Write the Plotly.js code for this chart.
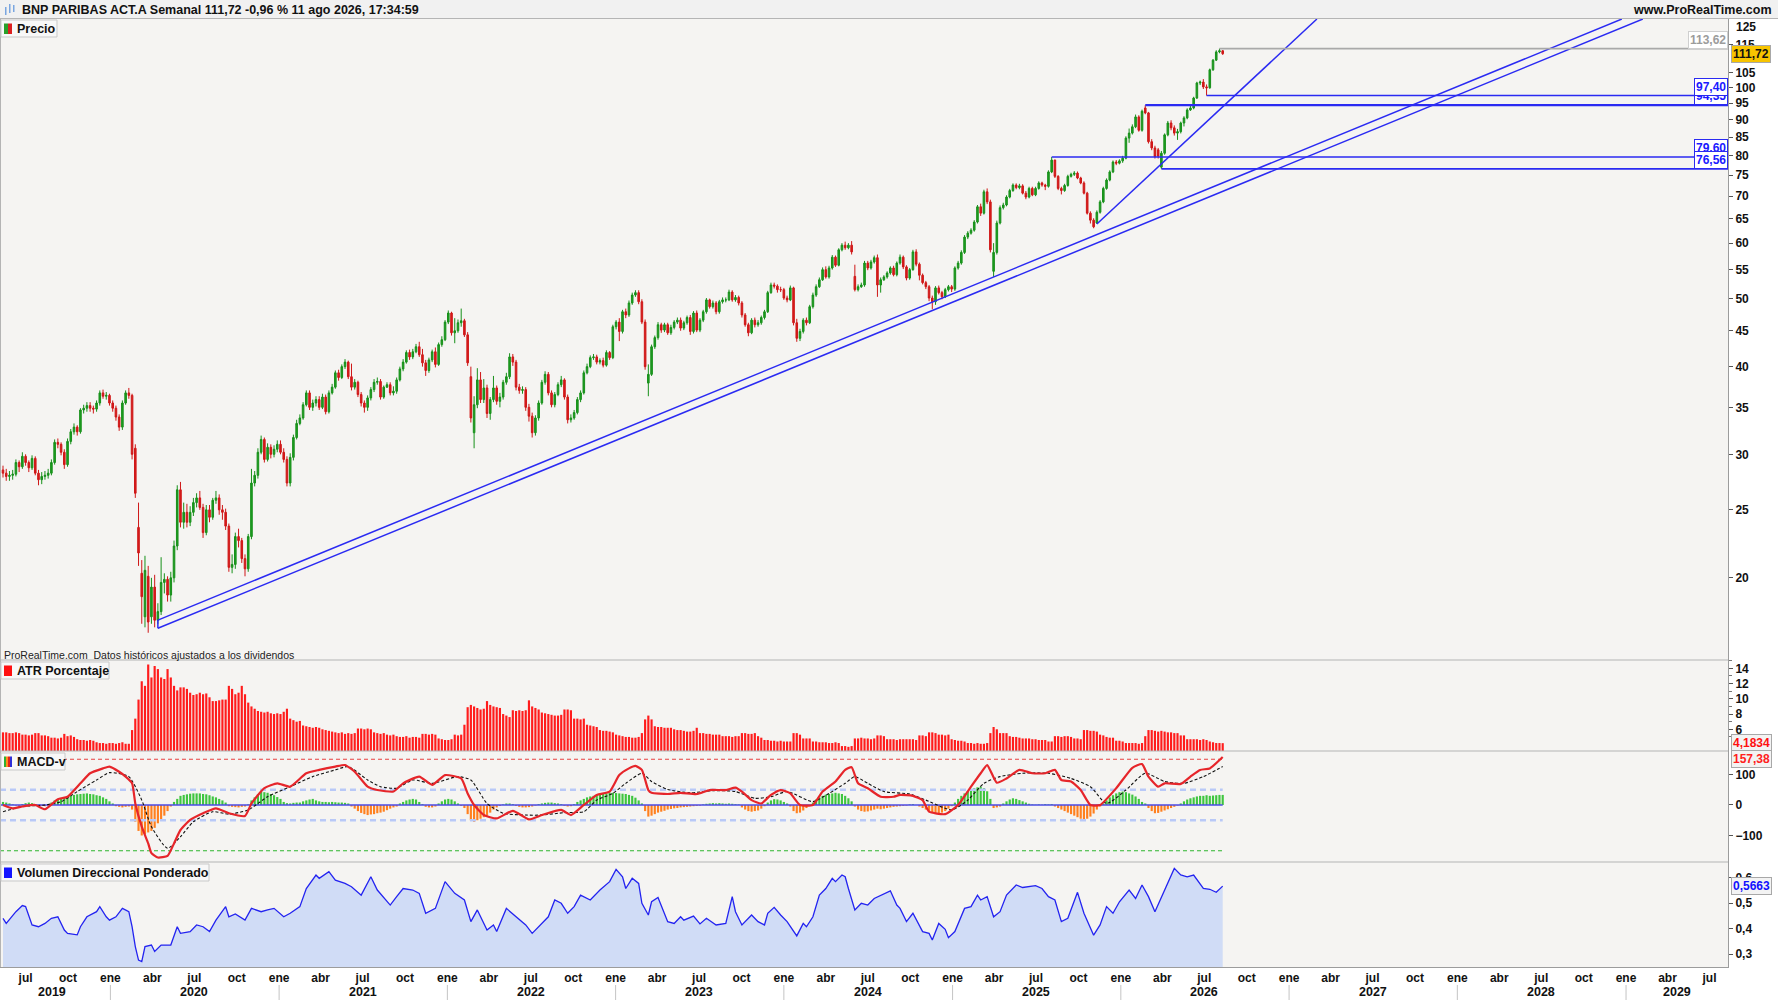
<!DOCTYPE html>
<html><head><meta charset="utf-8">
<script src="https://cdn.plot.ly/plotly-3.0.1.min.js"></script>
<style>html,body{margin:0;padding:0;background:#fff;}#chart{width:1778px;height:1000px;}</style>
</head><body><div id="chart"></div>
<script>
// ---------------- DATA ----------------
const weekStartUTC = Date.UTC(2019, 4, 13); // first weekly bar
const opens = [
28.5,28.2,27.9,28.0,28.1,29.2,28.8,29.8,29.2,28.7,
29.6,28.2,27.6,27.9,28.0,28.2,29.2,31.2,31.0,30.2,
29.0,31.3,32.3,32.8,32.3,34.7,34.9,35.2,34.9,34.8,
35.5,36.7,36.3,36.4,35.5,34.9,33.9,32.8,35.5,36.7,
36.4,30.6,23.6,20.3,17.6,20.1,17.6,19.4,17.4,17.9,
19.7,19.9,18.9,20.0,22.2,26.7,24.0,24.8,24.0,24.8,
25.6,26.0,25.2,23.2,25.0,24.4,25.8,26.0,25.0,24.8,
23.7,20.7,20.9,22.9,22.6,21.3,20.6,22.9,27.3,28.0,
30.2,31.5,29.5,30.7,30.0,30.5,31.0,30.2,29.5,27.3,
29.7,31.7,33.2,33.8,35.3,36.7,35.0,35.5,35.9,35.0,
36.2,34.5,36.7,37.4,39.2,38.6,40.0,40.6,38.7,37.4,
38.0,36.5,35.5,35.0,36.1,37.1,38.0,38.1,36.2,37.4,
37.7,36.7,36.9,38.3,39.7,40.6,41.9,41.3,42.0,42.7,
41.6,40.5,39.5,40.9,42.0,40.3,43.0,43.7,46.3,47.7,
44.7,45.0,46.2,46.5,44.4,38.7,32.2,35.3,38.3,35.9,
37.3,34.3,35.9,37.3,35.7,36.2,38.0,38.7,41.3,40.6,
37.4,37.0,37.1,35.0,34.0,32.2,33.8,35.5,38.0,39.0,
36.7,35.3,36.5,37.7,38.3,36.2,33.6,33.8,34.4,35.9,
36.7,39.2,40.0,41.2,41.3,40.6,40.8,40.2,41.9,41.2,
45.6,46.3,44.9,47.9,47.4,49.3,50.6,51.0,49.5,46.3,
37.9,39.0,42.7,44.0,45.9,45.1,45.9,44.7,45.5,46.3,
46.6,45.4,46.2,47.0,44.9,47.7,45.1,46.6,47.9,49.8,
48.7,49.3,47.9,49.5,49.8,49.8,51.1,49.8,50.2,49.3,
47.4,45.9,44.7,46.6,45.9,46.2,47.0,47.9,51.0,52.3,
52.1,51.5,51.5,50.1,49.8,51.8,46.2,43.9,44.9,46.6,
46.2,48.7,50.6,52.0,53.2,55.0,53.7,55.3,57.3,55.8,
58.7,59.6,59.1,59.6,53.8,51.5,52.0,52.3,56.2,55.3,
56.4,57.2,52.3,53.2,53.7,54.4,55.3,54.1,56.2,57.3,
55.5,53.5,55.0,58.3,56.0,54.0,52.7,52.0,50.1,49.5,
51.8,51.0,50.3,51.5,52.0,51.6,55.3,56.2,58.2,61.2,
62.0,62.6,64.3,67.6,66.2,71.0,68.7,54.7,58.2,64.1,
67.4,68.0,69.8,71.3,72.6,72.0,72.4,70.7,69.8,71.8,
70.3,71.8,73.1,72.6,72.3,75.8,78.8,74.7,71.8,71.3,
72.5,74.7,75.2,75.5,74.3,73.1,70.7,66.2,64.7,64.1,
66.4,68.7,71.8,73.8,75.8,78.3,78.0,78.6,79.3,84.7,
86.1,87.9,90.8,86.9,93.5,92.0,83.7,82.0,81.5,77.0,
80.6,85.6,89.0,87.6,86.1,86.5,89.0,90.5,92.9,93.5,
96.6,101.5,101.8,100.2,99.9,106.0,109.4,112.4,112.8];
const highs = [
28.9,28.6,28.4,28.5,29.5,29.4,30.2,30.0,29.4,29.9,
29.8,28.5,28.3,28.4,28.6,29.5,31.5,31.6,31.2,30.5,
31.6,32.6,33.2,33.0,34.9,35.3,35.6,35.6,35.2,35.8,
37.0,37.1,36.8,36.6,35.8,35.2,34.2,35.8,37.0,37.3,
36.6,31.0,25.6,21.2,21.5,20.8,20.0,20.2,18.4,21.4,
20.3,20.1,20.4,22.6,27.1,27.4,25.6,25.5,25.3,26.0,
26.4,26.6,25.5,25.4,25.4,26.0,26.6,26.3,25.4,25.1,
23.9,21.6,23.2,23.5,22.8,21.6,23.1,28.6,28.4,30.6,
31.9,31.7,31.1,31.0,30.9,31.4,31.4,30.6,29.8,30.1,
32.0,33.6,34.2,35.6,37.0,37.0,35.9,36.3,36.3,36.6,
36.5,37.0,37.8,39.5,39.6,40.3,41.0,40.8,40.4,38.4,
38.2,36.8,35.8,36.4,37.4,38.4,38.6,38.4,37.6,38.0,
38.0,37.5,38.6,40.0,41.0,42.2,42.3,42.4,43.1,43.4,
42.4,40.9,41.2,42.3,42.6,43.3,44.2,46.6,48.1,47.9,
46.9,46.7,48.4,46.8,44.8,40.0,36.3,39.8,39.3,38.4,
37.7,36.2,38.8,37.6,36.7,38.3,39.2,41.8,41.7,40.9,
37.8,37.5,37.4,35.4,34.4,34.1,35.8,38.3,39.4,39.3,
37.0,36.8,38.0,38.8,38.5,36.5,34.2,34.7,36.2,37.0,
39.5,40.4,41.5,41.7,41.6,41.1,41.2,42.2,42.1,45.9,
46.6,46.9,48.2,48.4,49.7,51.0,51.4,51.4,49.9,46.7,
40.3,43.0,44.3,46.3,46.2,46.2,46.2,45.9,46.6,47.0,
47.0,46.5,47.3,47.4,48.0,48.1,46.9,48.2,50.1,50.0,
49.7,49.6,49.8,50.2,50.2,51.5,51.4,50.6,50.5,49.6,
47.7,46.2,46.9,47.0,46.6,47.3,48.2,51.3,52.7,52.7,
52.4,52.0,51.8,50.5,52.2,52.0,46.8,45.3,46.9,47.0,
49.0,51.0,52.4,53.6,55.4,55.6,55.7,57.7,57.6,59.0,
60.0,60.3,60.0,60.4,55.9,52.4,52.7,56.6,56.6,56.8,
57.6,57.8,53.6,54.0,54.7,55.6,55.7,56.5,57.8,57.6,
55.8,55.3,58.7,58.8,56.3,54.3,53.0,52.3,50.5,52.1,
52.2,51.3,51.8,52.3,52.3,55.6,56.6,58.6,61.6,62.4,
63.0,64.7,68.0,68.3,71.5,71.8,69.2,60.0,64.6,67.9,
68.5,70.2,71.7,73.0,73.0,72.9,72.8,71.2,72.2,72.2,
72.2,73.5,73.4,72.9,76.2,79.6,78.9,75.0,72.2,72.9,
75.1,75.6,76.0,75.9,74.6,73.5,71.0,66.6,65.1,66.8,
69.1,72.2,74.2,76.2,78.7,78.8,79.0,79.9,85.2,87.4,
88.6,91.5,91.3,93.0,94.35,92.3,84.4,82.6,82.0,81.2,
86.0,89.6,89.8,88.3,87.3,89.4,91.0,93.4,94.2,97.0,
101.9,102.3,102.8,101.0,106.4,109.8,113.0,113.62,113.1];
const lows = [
27.8,27.5,27.5,27.6,27.9,28.3,28.6,28.9,28.3,28.5,
28.0,27.1,27.2,27.6,27.7,28.0,29.0,30.6,29.9,28.6,
28.8,31.0,32.0,31.9,32.1,34.3,34.5,34.5,34.3,34.5,
35.2,36.0,35.9,35.2,34.5,33.5,32.4,32.5,35.3,36.0,
29.5,26.0,20.8,17.2,17.0,16.7,17.2,17.0,17.2,17.7,
19.0,18.5,18.5,19.7,21.9,23.6,23.5,23.6,23.7,24.5,
25.2,25.0,22.8,23.0,24.0,24.2,25.5,24.6,24.2,23.4,
20.4,20.3,20.6,22.1,21.0,20.1,20.4,22.7,27.0,27.7,
30.0,29.2,29.3,29.6,29.7,30.2,30.0,29.2,27.0,27.0,
29.4,31.5,33.0,33.6,35.1,34.7,34.6,35.1,34.7,34.8,
34.2,34.3,36.5,37.2,38.2,38.4,39.7,38.4,37.0,37.1,
36.2,35.1,34.4,34.6,35.8,36.8,37.7,35.9,36.0,37.3,
36.4,36.4,36.6,38.1,39.4,40.4,40.9,41.0,41.8,41.3,
40.0,38.8,39.2,40.6,39.9,40.1,42.7,43.5,46.0,44.3,
43.2,44.7,45.6,44.1,40.1,33.3,30.6,34.9,35.5,35.5,
33.8,33.6,35.6,35.3,35.0,35.9,37.7,38.4,40.1,37.0,
36.6,36.6,34.6,33.4,31.7,31.9,33.5,35.3,37.7,36.4,
35.0,35.0,36.3,37.4,35.9,33.2,33.3,33.6,34.2,35.6,
36.5,39.0,39.8,40.9,40.3,40.3,39.9,40.0,40.9,41.0,
45.2,43.5,44.6,46.9,47.1,49.0,50.3,49.1,46.0,39.6,
36.3,38.8,42.4,43.7,44.7,44.8,44.4,44.4,45.2,46.0,
45.0,45.1,45.9,44.4,44.6,44.8,44.8,46.3,47.6,48.4,
48.4,47.5,47.6,49.2,49.4,49.6,49.5,49.5,48.9,47.0,
45.6,44.2,44.5,45.5,45.6,45.9,46.7,47.7,50.8,51.7,
51.0,51.1,49.8,49.4,49.6,45.8,43.4,43.5,44.6,45.8,
46.0,48.4,50.3,51.8,53.0,53.4,53.4,55.0,55.5,55.6,
58.4,58.7,58.8,57.8,51.2,51.2,51.8,52.0,54.9,55.0,
56.1,50.3,51.0,53.0,53.4,54.1,53.8,53.8,55.9,55.1,
53.1,53.2,54.8,55.6,53.1,52.4,51.6,49.6,48.3,49.0,
50.7,49.9,50.1,51.2,51.1,51.3,55.0,55.9,57.9,60.8,
61.7,62.3,64.0,65.6,65.9,68.2,58.2,53.7,57.8,63.8,
67.0,67.7,69.5,71.0,71.6,71.6,70.4,69.3,69.5,70.0,
70.0,71.5,72.2,71.4,72.0,75.5,74.3,71.4,70.4,71.0,
72.2,74.4,74.8,74.0,72.8,70.4,65.9,64.0,63.0,63.9,
66.1,68.4,71.5,73.5,75.5,77.5,77.7,78.1,79.0,83.4,
85.7,87.5,86.5,86.5,91.6,83.2,81.4,79.2,79.2,76.56,
80.2,85.2,86.9,85.4,84.2,86.0,88.0,90.1,92.6,93.1,
96.3,100.8,99.5,97.4,99.6,105.6,109.1,111.9,111.3];
const closes = [
28.2,27.9,28.0,28.1,29.2,28.8,29.8,29.2,28.7,29.6,
28.2,27.6,27.9,28.0,28.2,29.2,31.2,31.0,30.2,29.0,
31.3,32.3,32.8,32.3,34.7,34.9,35.2,34.9,34.8,35.5,
36.7,36.3,36.4,35.5,34.9,33.9,32.8,35.5,36.7,36.4,
30.0,26.4,21.7,18.8,20.5,17.3,19.4,17.4,17.9,19.7,
19.9,18.9,20.0,22.2,26.7,24.0,24.8,24.0,24.8,25.6,
26.0,25.2,23.2,25.0,24.4,25.8,26.0,25.0,24.8,23.7,
20.7,20.9,22.9,22.6,21.3,20.6,22.9,27.3,28.0,30.2,
31.5,29.5,30.7,30.0,30.5,31.0,30.2,29.5,27.3,29.7,
31.7,33.2,33.8,35.3,36.7,35.0,35.5,35.9,35.0,36.2,
34.5,36.7,37.4,39.2,38.6,40.0,40.6,38.7,37.4,38.0,
36.5,35.5,35.0,36.1,37.1,38.0,38.1,36.2,37.4,37.7,
36.7,36.9,38.3,39.7,40.6,41.9,41.3,42.0,42.7,41.6,
40.5,39.5,40.9,42.0,40.3,43.0,43.7,46.3,47.7,44.7,
45.0,46.2,46.5,44.4,40.5,33.8,35.3,38.3,35.9,37.3,
34.3,35.9,37.3,35.7,36.2,38.0,38.7,41.3,40.6,37.4,
37.0,37.1,35.0,34.0,32.2,33.8,35.5,38.0,39.0,36.7,
35.3,36.5,37.7,38.3,36.2,33.6,33.8,34.4,35.9,36.7,
39.2,40.0,41.2,41.3,40.6,40.8,40.2,41.9,41.2,45.6,
46.3,44.9,47.9,47.4,49.3,50.6,51.0,49.5,46.3,40.0,
39.0,42.7,44.0,45.9,45.1,45.9,44.7,45.5,46.3,46.6,
45.4,46.2,47.0,44.9,47.7,45.1,46.6,47.9,49.8,48.7,
49.3,47.9,49.5,49.8,49.8,51.1,49.8,50.2,49.3,47.4,
45.9,44.7,46.6,45.9,46.2,47.0,47.9,51.0,52.3,52.1,
51.5,51.5,50.1,49.8,51.8,46.2,43.9,44.9,46.6,46.2,
48.7,50.6,52.0,53.2,55.0,53.7,55.3,57.3,55.8,58.7,
59.6,59.1,59.6,58.3,51.5,52.0,52.3,56.2,55.3,56.4,
57.2,52.3,53.2,53.7,54.4,55.3,54.1,56.2,57.3,55.5,
53.5,55.0,58.3,56.0,54.0,52.7,52.0,50.1,49.5,51.8,
51.0,50.3,51.5,52.0,51.6,55.3,56.2,58.2,61.2,62.0,
62.6,64.3,67.6,66.2,71.0,68.7,58.7,58.2,64.1,67.4,
68.0,69.8,71.3,72.6,72.0,72.4,70.7,69.8,71.8,70.3,
71.8,73.1,72.6,72.3,75.8,78.8,74.7,71.8,71.3,72.5,
74.7,75.2,75.5,74.3,73.1,70.7,66.2,64.7,63.3,66.4,
68.7,71.8,73.8,75.8,78.3,78.0,78.6,79.3,84.7,86.1,
87.9,90.8,86.9,92.5,92.0,83.7,82.0,79.7,79.8,80.6,
85.6,89.0,87.6,86.1,86.5,89.0,90.5,92.9,93.5,96.6,
101.5,101.8,100.2,99.9,106.0,109.4,112.4,112.8,111.72];
const atrPct = [
5.6,5.6,5.5,5.5,5.6,5.5,5.3,5.3,5.2,5.3,
5.5,5.5,5.2,5.2,5.1,4.9,4.9,4.8,4.9,5.4,
5.1,5.2,5.0,4.7,4.6,4.6,4.5,4.6,4.5,4.3,
4.2,4.2,4.1,4.2,4.2,4.1,4.2,4.3,4.1,4.1,
5.9,7.4,9.9,12.3,11.7,14.5,12.8,14.3,13.9,12.8,
12.6,13.9,12.8,11.7,11.1,11.5,11.5,11.3,10.8,10.5,
10.6,10.8,10.6,10.7,10.2,9.7,9.7,9.8,9.9,9.9,
11.7,11.3,10.6,10.8,11.7,10.6,9.5,9.0,8.7,8.4,
8.3,8.2,8.3,8.1,8.0,8.1,8.0,8.3,8.7,7.4,
7.2,7.0,7.1,6.5,6.4,6.3,6.2,6.3,6.2,6.0,
5.9,5.8,5.7,5.6,5.5,5.6,5.4,5.5,5.4,5.5,
6.1,6.1,6.0,6.1,6.0,5.6,5.5,5.4,5.5,5.3,
5.2,5.3,5.1,5.0,5.0,5.1,4.9,5.0,5.0,4.9,
5.4,5.4,5.3,5.4,5.3,4.8,4.7,4.6,4.6,4.7,
5.3,5.2,5.3,6.6,8.9,9.2,9.0,8.8,8.6,8.7,
9.7,9.2,9.0,8.9,8.8,8.0,7.8,7.6,8.5,8.4,
8.5,8.4,8.5,9.8,9.0,8.8,8.6,8.2,8.1,8.0,
7.9,7.8,7.8,7.9,8.6,8.6,8.5,7.4,7.4,7.3,
7.4,6.6,6.5,6.4,6.3,5.9,5.8,5.8,5.7,5.6,
5.3,5.2,5.1,5.0,5.0,4.9,4.9,5.0,5.5,7.3,
7.8,7.3,6.4,6.3,6.3,6.2,6.2,6.2,6.0,5.9,
5.9,5.8,5.7,5.7,5.8,6.2,5.5,5.5,5.4,5.4,
5.3,5.3,5.3,5.1,5.1,5.1,5.0,5.1,5.1,5.5,
5.5,5.4,5.4,5.5,5.1,4.9,4.6,4.6,4.5,4.5,
4.4,4.5,4.4,4.4,4.4,5.5,5.5,5.3,4.8,4.8,
4.8,4.4,4.4,4.3,4.3,4.3,4.2,4.2,4.3,4.2,
3.8,3.8,3.7,3.8,4.8,4.8,4.9,4.8,4.8,4.7,
4.8,5.2,5.2,5.1,4.7,4.7,4.7,4.6,4.7,4.7,
4.7,4.7,4.7,4.6,5.2,5.2,5.1,5.6,5.6,5.5,
5.3,5.3,5.2,5.3,4.7,4.6,4.5,4.5,4.4,4.2,
4.2,4.1,4.2,4.1,4.1,4.2,5.5,6.3,6.0,5.5,
5.5,5.5,5.1,5.0,5.0,4.9,4.8,4.8,4.8,4.7,
4.7,4.6,4.6,4.6,4.4,4.4,5.1,5.1,5.0,5.1,
5.1,5.0,4.8,4.8,4.7,5.9,5.9,5.8,5.8,5.7,
5.3,5.2,5.0,4.9,4.9,4.5,4.5,4.4,4.2,4.2,
4.2,4.2,4.1,4.2,5.1,5.9,5.9,5.8,5.7,5.8,
5.7,5.6,5.6,5.5,5.5,5.2,5.2,4.7,4.7,4.7,
4.7,4.6,4.7,4.6,4.4,4.3,4.2,4.2,4.1834];
const macdHist = [
10,8,5,2,-2,-3,3,6,8,6,
3,-2,-3,-4,-2,8,15,18,20,25,
28,30,33,35,36,37,38,36,35,32,
30,25,20,12,5,-4,-6,-8,-6,-5,
-15,-55,-85,-100,-95,-90,-85,-75,-60,-50,
-35,-20,-5,10,20,30,33,35,37,38,
38,38,36,35,32,28,25,20,15,8,
-4,-6,-7,-8,-6,-5,2,15,25,35,
44,42,40,36,32,26,20,10,6,5,
7,8,8,12,15,18,20,15,12,10,
10,9,10,9,8,8,7,5,-5,-12,
-20,-26,-30,-33,-31,-30,-27,-25,-22,-17,
-12,-8,-5,5,10,15,18,20,18,10,
3,-6,-8,-8,-5,5,12,18,20,18,
12,5,-3,-10,-30,-50,-55,-50,-45,-40,
-35,-25,-15,-8,-3,2,5,5,3,-3,
-6,-8,-8,-7,-5,-2,3,5,7,8,
8,6,5,3,-3,-5,-4,3,10,15,
20,25,28,30,33,35,37,38,40,40,
39,38,37,36,33,30,24,15,5,-20,
-38,-35,-30,-25,-22,-19,-15,-13,-11,-10,
-8,-7,-6,-5,-4,-3,-2,2,4,5,
6,5,6,5,4,5,4,3,2,-8,
-15,-20,-22,-20,-18,-12,-4,8,15,19,
18,15,10,5,-5,-20,-27,-25,-18,-10,
-3,8,18,25,30,34,36,38,40,38,
36,30,22,12,-5,-15,-20,-22,-21,-18,
-15,-12,-14,-12,-10,-8,-6,-5,-4,-3,
-2,2,3,0,-5,-10,-15,-20,-25,-30,
-28,-25,-20,-12,-4,8,20,30,38,45,
50,55,58,60,55,45,20,-10,-8,-5,
5,12,18,22,20,16,12,8,4,2,
1,2,1,3,2,3,-5,-10,-15,-20,
-25,-30,-35,-40,-45,-49,-45,-38,-28,-15,
-5,5,15,25,32,38,42,44,42,38,
34,28,20,10,5,-10,-20,-27,-26,-22,
-18,-14,-10,-6,-2,5,12,18,22,25,
28,30,30,32,30,31,32,33,33];
const macdWeek = [0,3,6,10,13,17,20,24,27,31,33,36,38,40,41,43,45,46,48,51,53,55,58,62,66,70,75,77,81,85,89,94,98,103,106,109,113,116,121,124,129,133,137,142,144,146,149,153,158,163,167,173,176,180,184,
188,191,194,196,198,200,201,206,210,215,219,224,227,229,232,235,238,241,244,247,251,254,258,261,263,265,268,272,276,278,282,285,287,292,296,300,303,305,308,311,315,319,323,326,328,331,334,337,340,345,350,353,355,358,360,365,368,371,374,378];
const macdVal = [0,-11,-5,0,-14,19,27,71,104,120,126,109,93,71,5,-71,-126,-158,-172,-167,-126,-82,-49,-27,-11,-27,-36,5,55,71,60,104,115,126,131,109,60,49,44,71,93,66,98,87,38,0,-33,-44,-19,-47,-33,-16,-33,0,33,
44,98,120,128,115,49,40,36,40,36,49,49,57,44,16,5,33,49,38,0,0,44,77,115,124,71,55,27,27,33,30,16,-22,-30,0,60,104,131,73,87,115,104,104,115,82,77,49,0,0,55,122,134,93,60,71,69,93,115,120,157.38];
const signalWeek = [0,6,13,18,23,29,33,39,43,46,51,55,59,65,70,76,82,89,96,103,107,113,117,122,127,133,141,145,150,155,162,167,174,180,184,
189,193,198,201,206,213,220,227,233,238,243,251,256,261,264,268,273,281,286,294,299,304,309,316,324,331,337,342,348,354,360,366,372,378];
const signalVal = [-22,-5,0,11,44,82,106,93,16,-71,-142,-104,-55,-22,-30,-16,27,60,93,115,126,82,60,55,82,71,93,82,5,-27,-33,-33,-25,-22,16,
38,71,104,77,51,40,47,44,22,27,44,11,38,71,93,71,44,36,16,-16,16,71,93,104,104,87,60,5,49,104,77,71,93,126];
const volWeek = [0,1,4,6,7,9,11,13,15,17,19,20,23,24,26,29,30,32,33,35,37,39,40,41,42,43,44,46,47,49,52,54,55,58,60,62,64,66,69,70,72,75,77,80,82,84,87,89,92,94,97,98,101,103,106,108,111,114,116,120,122,124,127,129,131,134,137,140,143,145,147,150,152,153,156,159,162,164,166,169,171,173,175,177,179,182,
185,188,190,192,193,195,197,198,200,201,203,206,208,210,211,214,216,218,221,224,226,227,229,232,234,236,237,239,241,243,246,248,249,251,253,255,257,258,260,261,262,264,266,268,270,272,275,277,278,280,282,285,287,288,290,292,293,295,298,300,302,303,305,307,309,311,314,316,320,322,324,326,328,330,333,335,338,340,342,344,346,349,351,353,355,357,360,363,365,367,369,372,374,376,378];
const volVal = [0.44,0.42,0.466,0.49,0.486,0.414,0.407,0.42,0.44,0.446,0.394,0.381,0.375,0.407,0.446,0.466,0.486,0.446,0.433,0.446,0.479,0.466,0.407,0.329,0.276,0.27,0.329,0.335,0.31,0.335,0.335,0.407,0.381,0.388,0.414,0.407,0.388,0.433,0.486,0.446,0.457,0.433,0.479,0.466,0.473,0.479,0.446,0.46,0.486,0.557,0.61,0.597,0.623,0.59,0.577,0.564,0.531,0.603,0.551,0.492,0.525,0.557,0.551,0.538,0.46,0.479,0.584,0.538,0.512,0.427,0.473,0.394,0.414,0.388,0.479,0.446,0.414,0.381,0.407,0.446,0.512,0.499,0.46,0.486,0.531,0.512,
0.551,0.584,0.632,0.603,0.557,0.597,0.577,0.499,0.453,0.505,0.522,0.427,0.42,0.446,0.433,0.449,0.418,0.44,0.414,0.42,0.525,0.466,0.414,0.453,0.427,0.414,0.46,0.483,0.453,0.427,0.371,0.42,0.407,0.446,0.531,0.557,0.597,0.584,0.61,0.603,0.557,0.473,0.499,0.492,0.518,0.531,0.548,0.492,0.479,0.427,0.46,0.388,0.381,0.355,0.42,0.397,0.364,0.388,0.479,0.486,0.531,0.512,0.525,0.446,0.466,0.531,0.571,0.561,0.568,0.557,0.525,0.512,0.427,0.44,0.542,0.46,0.374,0.414,0.486,0.46,0.505,0.551,0.518,0.571,0.525,0.466,0.551,0.636,0.61,0.603,0.61,0.557,0.554,0.542,0.5663];
// support / resistance levels and trend lines (week index, price)
const levelValues = [113.62, 94.35, 97.40, 79.60, 76.56];
const levelFromWeek = [377, 354, 373, 325, 359];
const levelLabels = ['113,62', '94,35', '97,40', '79,60', '76,56'];
const trendWeeks = [[48, 501.7], [48, 508.2], [339, 407.2], [48, 48]];
const trendPrices = [[17.41, 125.2], [16.95, 125.2], [63.9, 125.2], [16.95, 17.41]];
const priceTicks = [20,25,30,35,40,45,50,55,60,65,70,75,80,85,90,95,100,105,115];
const topPriceLabel = '125';
const atrTicks = [6,8,10,12,14];
const macdTicks = [-100,0,100];
const volTicks = [0.3,0.4,0.5,0.6];
const volTickText = ['0,3','0,4','0,5','0,6'];
const monthNames = {1:'ene', 4:'abr', 7:'jul', 10:'oct'};
const years = [2019,2020,2021,2022,2023,2024,2025,2026,2027,2028,2029];

// ---------------- HELPERS ----------------
const DAY = 86400000;
function weekDate(k){ return new Date(weekStartUTC + k*7*DAY).toISOString().slice(0,19).replace('T',' '); }
const dates = closes.map((c,i)=>weekDate(i));
const lastDate = dates[dates.length-1];
const xStart = weekDate(-0.93), xEnd = weekDate(534.6);
const plotTop = 19, plotBottom = 967, plotRight = 1728;
const Y = py => (plotBottom - py)/(plotBottom - plotTop);
const X = px => px/plotRight;
const FONT = 'Liberation Sans, Arial, sans-serif';
const BLUE = '#2a2af2';

const traces = [];
traces.push({type:'candlestick', x:dates, open:opens, high:highs, low:lows, close:closes,
  xaxis:'x', yaxis:'y', whiskerwidth:0, hoverinfo:'skip',
  increasing:{line:{color:'#17901a', width:1}, fillcolor:'#1f9d22'},
  decreasing:{line:{color:'#cf1717', width:1}, fillcolor:'#d61c1c'}});
trendWeeks.forEach((w,k)=>{
  traces.push({type:'scatter', mode:'lines', x:[weekDate(w[0]), weekDate(w[1])], y:trendPrices[k],
    xaxis:'x', yaxis:'y', line:{color:BLUE, width:1.5}, hoverinfo:'skip'});
});
levelValues.forEach((v,k)=>{
  traces.push({type:'scatter', mode:'lines', x:[dates[levelFromWeek[k]], xEnd], y:[v,v], xaxis:'x', yaxis:'y',
    line:{color: k===0 ? '#a9a9a9' : BLUE, width: k===1 ? 2.2 : 1.6}, hoverinfo:'skip'});
});
traces.push({type:'bar', x:dates, y:atrPct, xaxis:'x', yaxis:'y2', marker:{color:'#ff1c1c'}, hoverinfo:'skip'});
// MACD reference lines
const refLines = [[150,'#e84040','4px,3px',1.2],[-150,'#2fb52f','4px,3px',1.2],[50,'#b9c9f7','6px,4px',2.6],[-50,'#b9c9f7','6px,4px',2.6]];
refLines.forEach(r=>traces.push({type:'scatter', mode:'lines', x:[xStart,lastDate], y:[r[0],r[0]], xaxis:'x', yaxis:'y3',
  line:{color:r[1], dash:r[2], width:r[3]}, hoverinfo:'skip'}));
traces.push({type:'bar', x:dates, y:macdHist, xaxis:'x', yaxis:'y3',
  marker:{color:macdHist.map(v=> v>=0 ? '#3fc53f' : '#ff801f')}, hoverinfo:'skip'});
traces.push({type:'scatter', mode:'lines', x:[xStart,lastDate], y:[0,0], xaxis:'x', yaxis:'y3', line:{color:'#4b4be6', width:1.6}, hoverinfo:'skip'});
traces.push({type:'scatter', mode:'lines', x:signalWeek.map(weekDate), y:signalVal, xaxis:'x', yaxis:'y3',
  line:{color:'#111', dash:'3px,2px', width:1.1, shape:'spline', smoothing:0.6}, hoverinfo:'skip'});
traces.push({type:'scatter', mode:'lines', x:macdWeek.map(weekDate), y:macdVal, xaxis:'x', yaxis:'y3',
  line:{color:'#e6252a', width:2.2, shape:'spline', smoothing:0.5}, hoverinfo:'skip'});
traces.push({type:'scatter', mode:'lines', x:volWeek.map(weekDate), y:volVal, xaxis:'x', yaxis:'y4',
  fill:'tozeroy', fillcolor:'#d0dcf6', line:{color:'#2323f0', width:1.3}, hoverinfo:'skip'});

// x ticks
const tickvals=[], ticktext=[];
years.forEach(y=>[1,4,7,10].forEach(m=>{
  const d = `${y}-${String(m).padStart(2,'0')}-01`;
  if (d > xStart.slice(0,10) && d < xEnd.slice(0,10)) { tickvals.push(d); ticktext.push(monthNames[m]); }
}));

const axisCommon = {side:'right', anchor:'x', showline:true, linecolor:'#9c9c9c', linewidth:1, ticks:'outside', ticklen:4,
  tickcolor:'#555', tickfont:{family:FONT, size:12, color:'#111', weight:'bold'}, showgrid:false, zeroline:false, fixedrange:true};

const shapes = [];
const annotations = [];
// header
shapes.push({type:'rect', xref:'paper', yref:'paper', x0:0, x1:1778/plotRight, y0:Y(0), y1:Y(18.5), fillcolor:'#f1f1f1', line:{width:0}, layer:'below'});
shapes.push({type:'line', xref:'paper', yref:'paper', x0:0, x1:1778/plotRight, y0:Y(18.5), y1:Y(18.5), line:{color:'#b5b5b5', width:1}});
// panel separators
[660,751,862].forEach(py=>shapes.push({type:'line', xref:'paper', yref:'paper', x0:0, x1:1, y0:Y(py), y1:Y(py), line:{color:'#b4b4b4', width:1.2}}));
shapes.push({type:'line', xref:'paper', yref:'paper', x0:X(0.5), x1:X(0.5), y0:0, y1:1, line:{color:'#b4b4b4', width:1}});
// year separators under the axis
years.forEach(y=>{ const d = `${y}-01-01`; if (d > xStart.slice(0,10) && d < xEnd.slice(0,10))
  shapes.push({type:'line', xref:'x', yref:'paper', x0:d, x1:d, y0:Y(985), y1:Y(1000), line:{color:'#c4c4c4', width:1}}); });

// panel label boxes with icons
function labelBox(x1, y0, y1, text){
  shapes.push({type:'rect', xref:'paper', yref:'paper', x0:X(1), x1:X(x1), y0:Y(y1), y1:Y(y0), fillcolor:'#f8f8f8', line:{color:'#c9c9c9', width:1}});
  annotations.push({xref:'paper', yref:'paper', x:X(15), y:Y((y0+y1)/2), xanchor:'left', yanchor:'middle', text:text, showarrow:false,
    font:{family:FONT, size:12.5, color:'#111', weight:'bold'}});
}
function iconRect(px0, px1, py0, py1, color){
  shapes.push({type:'rect', xref:'paper', yref:'paper', x0:X(px0), x1:X(px1), y0:Y(py1), y1:Y(py0), fillcolor:color, line:{width:0}});
}
labelBox(57, 20, 37, 'Precio'); iconRect(4,8,23.5,34,'#2aa02a'); iconRect(8,12,23.5,34,'#dd2020');
labelBox(109, 662, 679, 'ATR Porcentaje'); iconRect(4,12,665.5,676,'#ff1010');
labelBox(65, 753, 770, 'MACD-v'); iconRect(4,6,756.5,767,'#30b030'); iconRect(6,8,756.5,767,'#ff8a1a'); iconRect(8,10,756.5,767,'#e02020'); iconRect(10,12,756.5,767,'#3030d8');
labelBox(209, 864, 881, 'Volumen Direccional Ponderado'); iconRect(4,12,867.5,878,'#1414ff');
// header icon
iconRect(5,6.5,7,15,'#7aa6e0'); iconRect(9,10.5,4,13,'#7aa6e0'); iconRect(13,14.5,5,12,'#7aa6e0');

annotations.push({xref:'paper', yref:'paper', x:X(20), y:Y(9.5), xanchor:'left', yanchor:'middle', showarrow:false,
  text:'BNP PARIBAS ACT.A Semanal 111,72 -0,96 % 11 ago 2026, 17:34:59', font:{family:FONT, size:12.5, color:'#111', weight:'bold'}});
annotations.push({xref:'paper', yref:'paper', x:X(1774), y:Y(9.5), xanchor:'right', yanchor:'middle', showarrow:false,
  text:'www.ProRealTime.com', font:{family:FONT, size:12.5, color:'#111', weight:'bold'}});
annotations.push({xref:'paper', yref:'paper', x:X(2), y:Y(654.5), xanchor:'left', yanchor:'middle', showarrow:false,
  text:'ProRealTime.com  Datos históricos ajustados a los dividendos', font:{family:FONT, size:10.5, color:'#222'}});
// top price label, pushed just inside the panel like the reference
annotations.push({xref:'paper', yref:'paper', x:X(1734), y:Y(26.5), xanchor:'left', yanchor:'middle', showarrow:false,
  text:topPriceLabel, font:{family:FONT, size:12, color:'#111', weight:'bold'}});

// level labels at the right edge of the price panel
levelValues.forEach((v,k)=>{
  const grey = k===0;
  annotations.push({xref:'paper', yref:'y', x:1, y:Math.log10(v), xanchor:'right', yanchor:'bottom', showarrow:false,
    text:levelLabels[k], bgcolor:'#ffffff', bordercolor: grey ? '#cfcfcf' : BLUE, borderwidth:1, borderpad:1,
    font:{family:FONT, size:12, color: grey ? '#9c9c9c' : '#1a1aff', weight:'bold'}});
});
// last-value boxes on the axes
function valueBox(yref, y, text, color, bg){
  annotations.push({xref:'paper', yref:yref, x:1, xshift:3, y:y, xanchor:'left', yanchor:'middle', showarrow:false,
    text:text, bgcolor:bg, bordercolor:'#a8a8a8', borderwidth:1, borderpad:1, font:{family:FONT, size:12, color:color, weight:'bold'}});
}
valueBox('y', Math.log10(closes[closes.length-1]), '111,72', '#111', '#f7c400');
valueBox('y2', atrPct[atrPct.length-1], '4,1834', '#ff1010', '#f3f3f3');
valueBox('y3', macdVal[macdVal.length-1]-8, '157,38', '#ff2020', '#f3f3f3');
valueBox('y4', volVal[volVal.length-1], '0,5663', '#1010ff', '#f3f3f3');

// year labels
years.forEach(y=>{
  let d = `${y}-07-01`;
  if (y===2019) d = weekDate(15.2);
  if (y===2029) d = '2029-04-22';
  annotations.push({xref:'x', yref:'paper', x:d, y:Y(992), xanchor:'center', yanchor:'middle', showarrow:false,
    text:String(y), font:{family:FONT, size:12.5, color:'#111', weight:'bold'}});
});

const layout = {
  width:1778, height:1000, margin:{l:0, r:1778-plotRight, t:plotTop, b:1000-plotBottom, pad:0},
  paper_bgcolor:'#ffffff', plot_bgcolor:'#f5f4f2', showlegend:false, bargap:0.33, dragmode:false,
  font:{family:FONT, size:12, color:'#111'},
  xaxis:{type:'date', range:[xStart, xEnd], anchor:'y4', domain:[0,1], tickvals:tickvals, ticktext:ticktext, ticks:'',
    tickfont:{family:FONT, size:12, color:'#111', weight:'bold'}, showgrid:false, zeroline:false, showline:true, linecolor:'#9c9c9c',
    rangeslider:{visible:false}, fixedrange:true},
  yaxis:Object.assign({}, axisCommon, {type:'log', domain:[Y(660),1], range:[1.18389, 2.09765], tickvals:priceTicks, ticktext:priceTicks.map(String)}),
  yaxis2:Object.assign({}, axisCommon, {domain:[Y(751),Y(660)], range:[3.154, 15.09], tickvals:atrTicks,
    minor:{tickvals:[5,7,9,11,13,15], ticks:'outside', ticklen:3, tickcolor:'#777'}}),
  yaxis3:Object.assign({}, axisCommon, {domain:[Y(862),Y(751)], range:[-186.9, 177], tickvals:macdTicks}),
  yaxis4:Object.assign({}, axisCommon, {domain:[0,Y(862)], range:[0.249, 0.661], tickvals:volTicks, ticktext:volTickText}),
  shapes:shapes, annotations:annotations
};
Plotly.newPlot('chart', traces, layout, {displayModeBar:false, staticPlot:true});
</script></body></html>
